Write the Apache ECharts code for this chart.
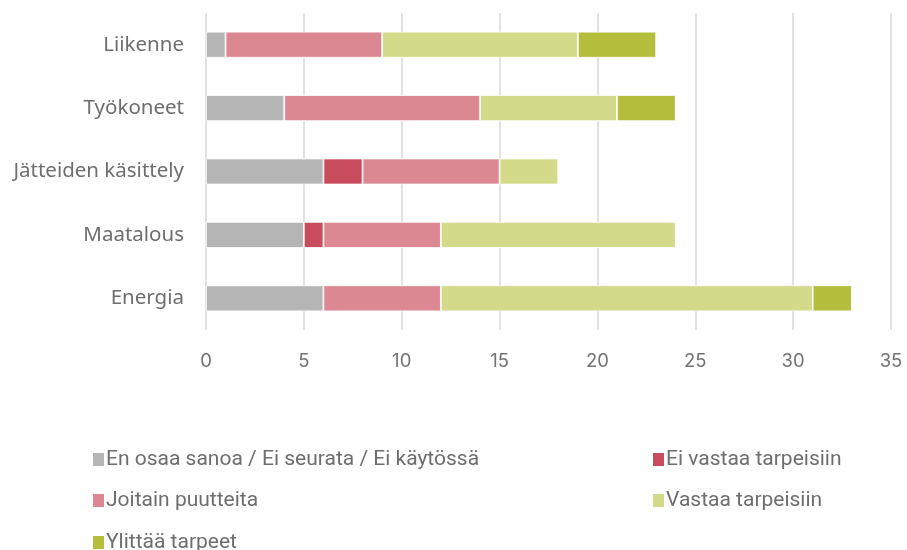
<!DOCTYPE html>
<html><head><meta charset="utf-8">
<script src="https://cdn.jsdelivr.net/npm/echarts@6/dist/echarts.min.js"></script>
<style>html,body{margin:0;padding:0;background:#fff}#c{width:907px;height:550px}</style>
</head><body><div id="c"></div>
<script>
const categories = ['Energia', 'Maatalous', 'Jätteiden käsittely', 'Työkoneet', 'Liikenne'];
const seriesNames = ['En osaa sanoa / Ei seurata / Ei käytössä', 'Ei vastaa tarpeisiin', 'Joitain puutteita', 'Vastaa tarpeisiin', 'Ylittää tarpeet'];
const enOsaa = [6, 5, 6, 4, 1];
const eiVastaa = [0, 1, 2, 0, 0];
const joitain = [6, 6, 7, 10, 8];
const vastaa = [19, 12, 3, 7, 10];
const ylittaa = [2, 0, 0, 3, 4];
const xTicks = [0, 5, 10, 15, 20, 25, 30, 35];

const colors = ['#b5b5b5', '#c94b5e', '#dc8893', '#d3db8a', '#b4be3c'];
const values = [enOsaa, eiVastaa, joitain, vastaa, ylittaa];
const legendPos = [[86, 444], [646, 444], [86, 485], [646, 485], [86, 527]];

const chart = echarts.init(document.getElementById('c'));
chart.setOption({
  animation: false,
  color: colors,
  textStyle: {fontFamily: 'Inter'},
  grid: {left: 206, right: 16, top: 13, bottom: 220, containLabel: false},
  xAxis: {
    type: 'value', min: xTicks[0], max: xTicks[xTicks.length - 1], interval: 5,
    axisLine: {show: false}, axisTick: {show: false},
    splitLine: {lineStyle: {color: '#d9d9d9', width: 1.5}},
    axisLabel: {color: '#737373', fontSize: 18.5, margin: 22, fontFamily: 'Inter'}
  },
  yAxis: {
    type: 'category', data: categories,
    axisLine: {show: false}, axisTick: {show: false},
    axisLabel: {color: '#6e6e6e', fontSize: 20.5, margin: 22, fontFamily: 'Noto Sans'}
  },
  legend: seriesNames.map((n, i) => ({
    data: [n], left: legendPos[i][0], top: legendPos[i][1],
    itemWidth: 13, itemHeight: 15, itemGap: 5, icon: 'rect',
    textStyle: {color: '#6e6e6e', fontSize: 21, fontFamily: 'Roboto', padding: [0, 0, 0, -4]}
  })),
  series: seriesNames.map((n, i) => ({
    name: n, type: 'bar', stack: 'total', data: values[i],
    barWidth: '41%',
    itemStyle: {color: colors[i], borderColor: '#fff', borderWidth: 0.8}
  }))
});
</script></body></html>
